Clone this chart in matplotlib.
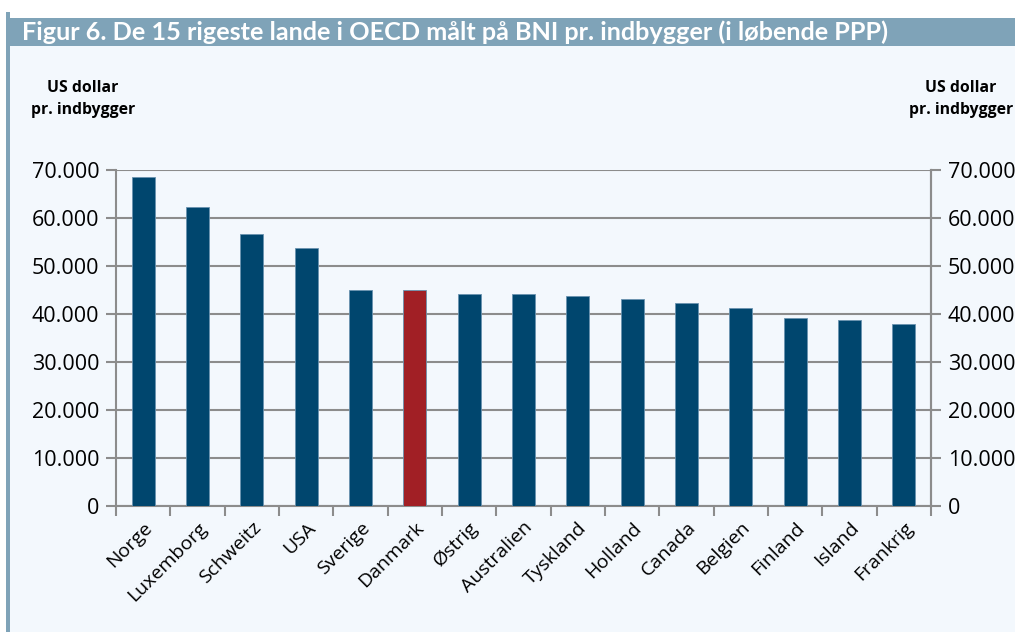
import matplotlib
matplotlib.use("Agg")
import matplotlib.pyplot as plt
from matplotlib.patches import Rectangle
from matplotlib import font_manager
import numpy as np

countries = ["Norge", "Luxemborg", "Schweitz", "USA", "Sverige", "Danmark", "Østrig",
             "Australien", "Tyskland", "Holland", "Canada", "Belgien", "Finland", "Island", "Frankrig"]
values = [68500, 62300, 56700, 53700, 45000, 44900, 44200, 44200, 43800, 43100, 42200, 41250,
          39250, 38800, 37900]
highlight = "Danmark"
yticks = [0, 10000, 20000, 30000, 40000, 50000, 60000, 70000]
ytick_labels = ["0", "10.000", "20.000", "30.000", "40.000", "50.000", "60.000", "70.000"]
title = "Figur 6. De 15 rigeste lande i OECD målt på BNI pr. indbygger (i løbende PPP)"
unit_label = "US dollar\npr. indbygger"

available = {f.name for f in font_manager.fontManager.ttflist}
title_family = "Liberation Sans Narrow" if "Liberation Sans Narrow" in available else "Lato"

W, H = 1015, 632
fig = plt.figure(figsize=(W / 100, H / 100), dpi=100)
fig.patch.set_facecolor("white")

fig.add_artist(Rectangle((8 / W, 0), 1 - 8 / W, 1 - 18 / H, transform=fig.transFigure,
                         facecolor="#f3f8fd", edgecolor="none", zorder=0))
fig.add_artist(Rectangle((6 / W, 0), 4 / W, 1 - 12 / H, transform=fig.transFigure,
                         facecolor="#7fa3b8", edgecolor="none", zorder=1))
fig.add_artist(Rectangle((6 / W, 1 - 46 / H), 1 - 6 / W, 28 / H, transform=fig.transFigure,
                         facecolor="#7fa3b8", edgecolor="none", zorder=1))
t = fig.text(22 / W, 1 - 32 / H, title, color="white", fontsize=17, fontweight="bold",
             family=title_family, va="center", ha="left", zorder=2)
fig.canvas.draw()
bb = t.get_window_extent()
t.set_fontsize(min(19, 17 * 868 / bb.width))

ax = fig.add_axes([116 / W, 1 - 506 / H, (931 - 116) / W, (506 - 170) / H])
ax.set_facecolor("none")
x = np.arange(len(countries))
colors = ["#a11f25" if c == highlight else "#00466e" for c in countries]
ax.bar(x, values, width=0.42, color=colors, edgecolor="#6a93b0", linewidth=0.6, zorder=3)
ax.set_xlim(-0.5, len(countries) - 0.5)
ax.set_ylim(0, 70000)
ax.set_yticks(yticks)
ax.set_yticklabels(ytick_labels)
ax.yaxis.grid(True, color="#8c8c8c", linewidth=1.5, zorder=1)
ax.set_axisbelow(True)

ax.set_xticks(x)
ax.set_xticklabels(countries, rotation=45, ha="right", rotation_mode="anchor",
                   fontsize=14, family="Open Sans")
ax.tick_params(axis="x", length=0, pad=9)
ax.set_xticks(np.arange(-0.5, len(countries) + 0.5, 1), minor=True)
ax.tick_params(axis="x", which="minor", length=7, width=1.5, color="#8c8c8c")

ax.spines["top"].set_visible(False)
for s in ["left", "right", "bottom"]:
    ax.spines[s].set_color("#8c8c8c")
    ax.spines[s].set_linewidth(1.5)

ax.tick_params(axis="y", length=7, width=1.5, color="#8c8c8c", labelsize=15.5, pad=5)
for lab in ax.get_yticklabels():
    lab.set_family("Open Sans")

ax2 = ax.twinx()
ax2.set_ylim(0, 70000)
ax2.set_yticks(yticks)
ax2.set_yticklabels(ytick_labels)
ax2.tick_params(axis="y", length=7, width=1.5, color="#8c8c8c", labelsize=15.5, pad=5)
for lab in ax2.get_yticklabels():
    lab.set_family("Open Sans")
for s in ["top", "left", "bottom"]:
    ax2.spines[s].set_visible(False)
ax2.spines["right"].set_color("#8c8c8c")
ax2.spines["right"].set_linewidth(1.5)

fig.text(83 / W, 1 - 99 / H, unit_label, ha="center", va="center", fontsize=11.3,
         fontweight="bold", family="Open Sans", linespacing=1.45)
fig.text(961 / W, 1 - 99 / H, unit_label, ha="center", va="center", fontsize=11.3,
         fontweight="bold", family="Open Sans", linespacing=1.45)

fig.savefig("out.png", dpi=100, facecolor=fig.get_facecolor())
